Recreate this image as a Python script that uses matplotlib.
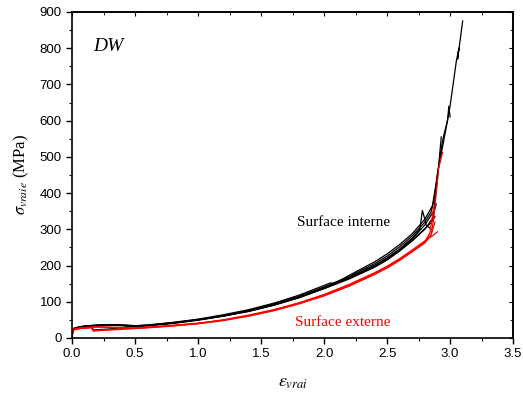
import numpy as np
import matplotlib
matplotlib.use("Agg")
import matplotlib.pyplot as plt
from matplotlib.ticker import MultipleLocator

plt.rcParams['font.family'] = ['Liberation Sans', 'DejaVu Sans']
plt.rcParams['mathtext.fontset'] = 'stix'

# ---- data (strain, true stress MPa) ----
# black curves: "Surface interne"
b1_eps = [0, 0.005, 0.05, 0.1, 0.2, 0.3, 0.4, 0.5, 0.6, 0.8, 1.0, 1.2, 1.4, 1.6, 1.8, 2.0, 2.2, 2.4, 2.5, 2.6,
          2.7, 2.8, 2.85, 2.88, 2.9, 2.95, 3.0, 3.05, 3.07, 3.06, 3.1]
b1_sig = [0, 24, 29, 32, 35, 36, 35, 33, 35, 42, 51, 62, 76, 94, 115, 141, 170, 205, 226, 252,
          282, 320, 348, 395, 455, 545, 640, 765, 800, 770, 875]

b2_eps = [0, 0.005, 0.05, 0.1, 0.2, 0.3, 0.4, 0.5, 0.6, 0.8, 1.0, 1.2, 1.4, 1.6, 1.8, 2.0, 2.05, 2.08, 2.2, 2.4,
          2.5, 2.6, 2.7, 2.8, 2.86, 2.9, 2.93, 2.95, 2.98, 2.99, 3.0]
b2_sig = [0, 26, 30, 33, 36, 37, 36, 34, 36, 43, 52, 64, 78, 96, 118, 145, 152, 150, 173, 210,
          232, 258, 288, 328, 365, 450, 525, 560, 600, 640, 610]

b3_eps = [0, 0.005, 0.05, 0.1, 0.15, 0.17, 0.3, 0.45, 0.42, 0.5, 0.6, 0.8, 1.0, 1.2, 1.4, 1.6, 1.8, 2.0, 2.2,
          2.4, 2.5, 2.6, 2.7, 2.8, 2.87, 2.9, 2.93]
b3_sig = [0, 22, 28, 31, 33, 22, 25, 30, 35, 32, 34, 40, 49, 60, 73, 90, 111, 137, 165,
          198, 219, 244, 274, 312, 350, 440, 555]

b4_eps = [0, 0.005, 0.05, 0.1, 0.2, 0.3, 0.4, 0.5, 0.6, 0.8, 1.0, 1.2, 1.4, 1.6, 1.8, 2.0, 2.2, 2.4, 2.5, 2.6,
          2.7, 2.8, 2.85, 2.88]
b4_sig = [0, 25, 29, 32, 34, 35, 34, 32, 34, 41, 50, 61, 74, 91, 112, 138, 165, 198, 218, 242,
          270, 302, 318, 335]

b5_eps = [0, 0.005, 0.05, 0.1, 0.2, 0.3, 0.4, 0.5, 0.6, 0.8, 1.0, 1.2, 1.4, 1.6, 1.8, 2.0, 2.2, 2.4, 2.5, 2.6,
          2.7, 2.76, 2.78, 2.79, 2.81, 2.85]
b5_sig = [0, 23, 28, 31, 34, 35, 34, 32, 34, 41, 50, 61, 75, 92, 113, 139, 167, 201, 221, 246,
          276, 300, 352, 340, 312, 300]

b6_eps = [0, 0.005, 0.05, 0.1, 0.2, 0.3, 0.4, 0.5, 0.6, 0.8, 1.0, 1.2, 1.4, 1.6, 1.8, 2.0, 2.2, 2.4, 2.5, 2.6,
          2.7, 2.8, 2.86, 2.89]
b6_sig = [0, 25, 30, 33, 35, 36, 35, 33, 35, 42, 50, 61, 74, 91, 111, 136, 163, 195, 215, 240,
          268, 300, 330, 370]

# red curves: "Surface externe"
r1_eps = [0, 0.003, 0.05, 0.1, 0.15, 0.17, 0.2, 0.3, 0.4, 0.5, 0.6, 0.8, 1.0, 1.2, 1.4, 1.6, 1.8, 2.0, 2.2,
          2.4, 2.5, 2.6, 2.7, 2.8, 2.85, 2.87, 2.89, 2.91, 2.94]
r1_sig = [0, 22, 26, 28, 29, 20, 21, 23, 25, 27, 29, 34, 40, 49, 61, 76, 95, 118, 145,
          177, 195, 216, 240, 265, 285, 330, 400, 470, 512]

r2_eps = [0, 0.003, 0.05, 0.1, 0.2, 0.3, 0.4, 0.5, 0.6, 0.8, 1.0, 1.2, 1.4, 1.6, 1.8, 2.0, 2.2, 2.4, 2.5,
          2.6, 2.7, 2.8, 2.86, 2.9]
r2_sig = [0, 23, 27, 29, 31, 30, 28, 28, 30, 35, 41, 50, 63, 78, 97, 120, 148, 180, 198,
          219, 243, 268, 282, 293]

r3_eps = [0, 0.003, 0.05, 0.1, 0.15, 0.17, 0.2, 0.3, 0.4, 0.5, 0.6, 0.8, 1.0, 1.2, 1.4, 1.6, 1.8, 2.0, 2.2,
          2.4, 2.5, 2.6, 2.7, 2.8, 2.85, 2.88]
r3_sig = [0, 21, 25, 27, 28, 19, 20, 22, 24, 26, 28, 33, 39, 48, 60, 75, 94, 116, 143,
          175, 193, 214, 238, 262, 285, 320]

r4_eps = [0, 0.003, 0.05, 0.1, 0.2, 0.3, 0.4, 0.5, 0.6, 0.8, 1.0, 1.2, 1.4, 1.6, 1.8, 2.0, 2.2, 2.4, 2.5,
          2.6, 2.7, 2.8, 2.84, 2.87]
r4_sig = [0, 22, 26, 28, 30, 29, 27, 27, 29, 34, 40, 49, 62, 77, 96, 119, 146, 178, 196,
          217, 241, 266, 290, 360]

black_curves = [(b1_eps, b1_sig), (b2_eps, b2_sig), (b3_eps, b3_sig),
                (b4_eps, b4_sig), (b5_eps, b5_sig), (b6_eps, b6_sig)]
red_curves = [(r1_eps, r1_sig), (r2_eps, r2_sig), (r3_eps, r3_sig), (r4_eps, r4_sig)]

# ---- figure ----
fig = plt.figure(figsize=(5.23, 3.99), dpi=100)
ax = fig.add_axes([0.138, 0.153, 0.843, 0.817])

for e, s in black_curves:
    ax.plot(e, s, color='black', lw=0.9)
for e, s in red_curves:
    ax.plot(e, s, color='red', lw=0.9)

ax.set_xlim(0, 3.5)
ax.set_ylim(0, 900)
ax.xaxis.set_major_locator(MultipleLocator(0.5))
ax.xaxis.set_minor_locator(MultipleLocator(0.25))
ax.yaxis.set_major_locator(MultipleLocator(100))
ax.yaxis.set_minor_locator(MultipleLocator(50))
ax.xaxis.set_major_formatter(plt.FormatStrFormatter('%.1f'))
ax.tick_params(which='major', direction='out', length=4, width=1, labelsize=9.5, colors='black')
ax.tick_params(which='minor', direction='out', length=2.5, width=0.8)
for sp in ax.spines.values():
    sp.set_linewidth(1.2)

# mirrored inward ticks on top and right
top = ax.secondary_xaxis('top')
top.xaxis.set_major_locator(MultipleLocator(0.5))
top.xaxis.set_minor_locator(MultipleLocator(0.25))
top.tick_params(which='both', direction='in', labeltop=False)
top.tick_params(which='major', length=3)
top.tick_params(which='minor', length=2)
right = ax.secondary_yaxis('right')
right.yaxis.set_major_locator(MultipleLocator(100))
right.yaxis.set_minor_locator(MultipleLocator(50))
right.tick_params(which='both', direction='in', labelright=False)
right.tick_params(which='major', length=3)
right.tick_params(which='minor', length=2)
top.spines['top'].set_linewidth(1.2)
right.spines['right'].set_linewidth(1.2)

ax.set_xlabel(r'$\varepsilon_{vrai}$', fontsize=13, labelpad=10)
ax.set_ylabel(r'$\sigma_{vraie}$ (MPa)', fontsize=12, family='Liberation Serif', labelpad=6)

ax.text(0.17, 805, 'DW', fontsize=14, style='italic', family='Liberation Serif', va='center')
ax.text(1.785, 320, 'Surface interne', fontsize=11, family='Liberation Serif', va='center')
ax.text(1.77, 44, 'Surface externe', fontsize=11, family='Liberation Serif', va='center', color='red')

fig.savefig('out.png', dpi=100)
